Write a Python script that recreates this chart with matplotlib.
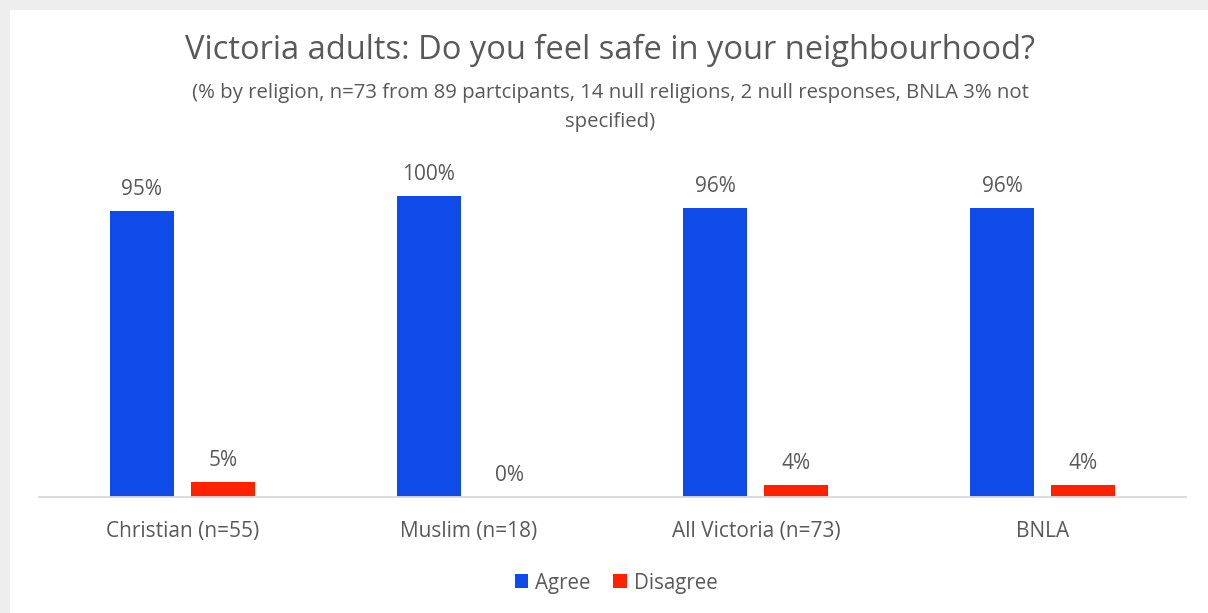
import matplotlib.pyplot as plt
import numpy as np
from matplotlib.patches import Rectangle

categories = ['Christian (n=55)', 'Muslim (n=18)', 'All Victoria (n=73)', 'BNLA']
agree = [95, 100, 96, 96]
disagree = [5, 0, 4, 4]
series_names = ['Agree', 'Disagree']

title = 'Victoria adults: Do you feel safe in your neighbourhood?'
subtitle = ('(% by religion, n=73 from 89 partcipants, 14 null religions, 2 null responses, BNLA 3% not\n'
            'specified)')

BLUE = '#0f4be8'
RED = '#ff2200'
TEXT = '#595959'

plt.rcParams['font.family'] = ['Open Sans', 'DejaVu Sans']

W, H = 1208, 613
fig = plt.figure(figsize=(W / 100, H / 100), dpi=100)
fig.patch.set_facecolor('#eeeeee')
# white panel with grey margin at top/left
fig.add_artist(Rectangle((10 / W, 0), 1, 1 - 10 / H, transform=fig.transFigure,
                         facecolor='white', edgecolor='none', zorder=0))

left, right, bottom = 39, 1186, 497
top = bottom - 301 * 1.1
ax = fig.add_axes([left / W, 1 - bottom / H, (right - left) / W, (bottom - top) / H])
ax.set_facecolor('none')

x = np.arange(len(categories))
bw = 0.223
off = 0.141
b1 = ax.bar(x - off, agree, bw, color=BLUE, label=series_names[0])
b2 = ax.bar(x + off, disagree, bw, color=RED, label=series_names[1])

for bars, vals in ((b1, agree), (b2, disagree)):
    for rect, v in zip(bars, vals):
        ax.annotate(f'{v}%', (rect.get_x() + rect.get_width() / 2, v),
                    xytext=(0, 8), textcoords='offset points',
                    ha='center', va='bottom', fontsize=15, color=TEXT)

ax.set_xlim(-0.5, len(categories) - 0.5)
ax.set_ylim(0, 110)
ax.set_yticks([])
ax.set_xticks(x)
ax.set_xticklabels(categories, fontsize=15, color=TEXT)
ax.tick_params(axis='x', length=0, pad=17)
for s in ['top', 'right', 'left']:
    ax.spines[s].set_visible(False)
ax.spines['bottom'].set_color('#d9d9d9')
ax.spines['bottom'].set_linewidth(1.3)

fig.text(0.505, 1 - 50 / H, title, ha='center', va='center', fontsize=23.5, color=TEXT)
fig.text(0.505, 1 - 107.5 / H, subtitle, ha='center', va='center', fontsize=14.7,
         color=TEXT, linespacing=1.55)

leg = fig.legend(loc='center', bbox_to_anchor=(616 / W, 1 - 583 / H), ncol=2,
                 frameon=False, fontsize=14.8, handlelength=0.65, handleheight=0.65,
                 handletextpad=0.35, columnspacing=1.1)
for t in leg.get_texts():
    t.set_color(TEXT)

fig.savefig('out.png', dpi=100)
